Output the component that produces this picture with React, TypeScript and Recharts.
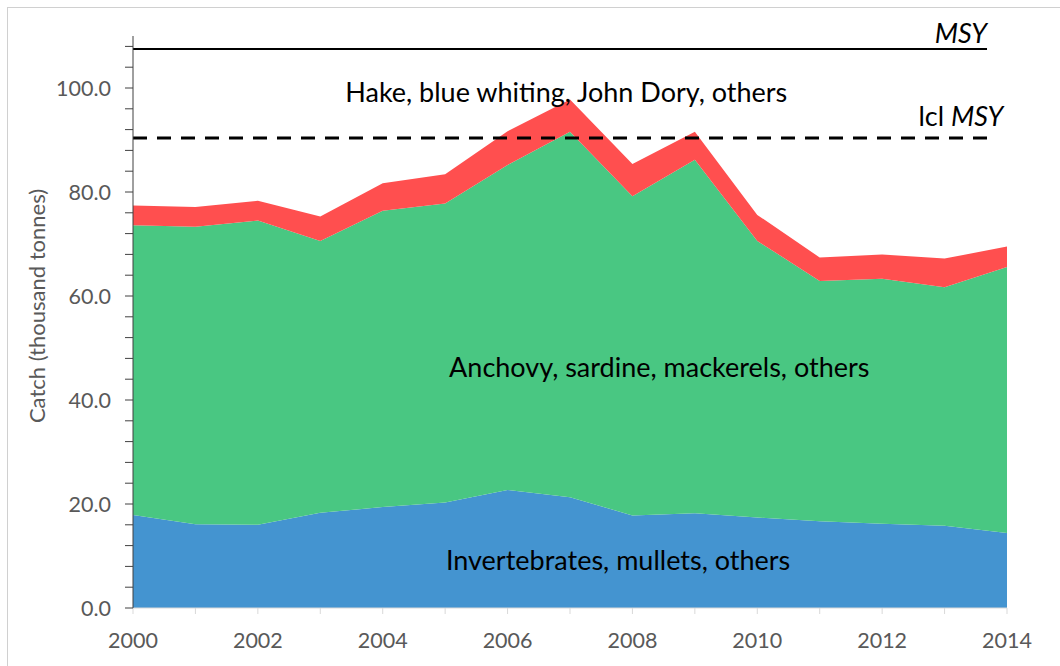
import {
  Area,
  AreaChart,
  ReferenceDot,
  ReferenceLine,
  XAxis,
  YAxis,
} from "recharts";

const years = [2000, 2001, 2002, 2003, 2004, 2005, 2006, 2007, 2008, 2009, 2010, 2011, 2012, 2013, 2014];
const invertebrates = [17.9, 16.1, 16.0, 18.3, 19.4, 20.3, 22.7, 21.3, 17.8, 18.2, 17.4, 16.7, 16.2, 15.8, 14.4];
const pelagics = [55.7, 57.2, 58.5, 52.3, 57.0, 57.5, 62.5, 70.3, 61.4, 68.0, 53.2, 46.2, 47.1, 45.9, 51.2];
const demersals = [3.8, 3.8, 3.8, 4.7, 5.3, 5.6, 6.5, 6.2, 6.2, 5.4, 5.0, 4.5, 4.7, 5.5, 3.9];

const msy = 107.5;
const lclMsy = 90.4;
const refLineEnd = 2013.68;

const yTicks = [0, 4, 8, 12, 16, 20, 24, 28, 32, 36, 40, 44, 48, 52, 56, 60, 64, 68, 72, 76, 80, 84, 88, 92, 96, 100, 104, 108];
const yLabelled = [0, 20, 40, 60, 80, 100];

const data = years.map((year, i) => ({
  year,
  inv: invertebrates[i],
  pel: pelagics[i],
  dem: demersals[i],
}));

const FONT = "Lato, 'Open Sans', sans-serif";

const areaLabel = (value: string) => ({
  value,
  position: "center" as const,
  fill: "#000",
  fontSize: 27,
  fontFamily: FONT,
});

const msyText = (prefix: string) => (props: any) => {
  const { x, y } = props.viewBox;
  return (
    <text x={x} y={y} textAnchor="end" fill="#000" fontSize={27} fontFamily={FONT}>
      {prefix}
      <tspan fontStyle="italic">MSY</tspan>
    </text>
  );
};

// year tick: labels on even years only, pushed a little lower like the original
const YearTick = (props: any) => {
  const { x, y, payload } = props;
  if (payload.value % 2 !== 0) return null;
  return (
    <text x={x} y={y + 32} textAnchor="middle" fill="#595959" fontSize={21.5} fontFamily={FONT}>
      {payload.value}
    </text>
  );
};

export default function App() {
  return (
    <div
      style={{
        position: "fixed",
        top: 0,
        left: 0,
        width: 1060,
        height: 666,
        background: "#fff",
        overflow: "hidden",
      }}
    >
      <div
        style={{
          position: "absolute",
          left: 7,
          top: 7,
          width: 1060,
          height: 666,
          borderLeft: "1px solid #d0d0d0",
          borderTop: "1px solid #d0d0d0",
        }}
      />
      <AreaChart
        width={1060}
        height={666}
        data={data}
        margin={{ top: 36, right: 53, left: 0, bottom: 0 }}
        style={{ position: "absolute", left: 0, top: 0 }}
      >
        <XAxis
          dataKey="year"
          type="number"
          domain={[2000, 2014]}
          ticks={years}
          interval={0}
          height={58}
          axisLine={{ stroke: "#d9d9d9" }}
          tickLine={{ stroke: "#d9d9d9" }}
          tickSize={6}
          tick={<YearTick />}
        />
        <YAxis
          type="number"
          domain={[0, 110]}
          ticks={yTicks}
          interval={0}
          width={133}
          tickFormatter={(v: number) => (yLabelled.includes(v) ? v.toFixed(1) : "")}
          axisLine={{ stroke: "#404040" }}
          tickLine={{ stroke: "#404040" }}
          tickSize={8}
          tickMargin={14}
          tick={{ fill: "#595959", fontSize: 21.5, fontFamily: FONT }}
          label={{
            value: "Catch (thousand tonnes)",
            angle: -90,
            position: "center",
            dx: -29,
            dy: -16,
            fill: "#595959",
            fontSize: 22,
            fontFamily: FONT,
          }}
        />
        <Area
          type="linear"
          dataKey="inv"
          stackId="1"
          stroke="none"
          fill="#4494D0"
          fillOpacity={1}
          isAnimationActive={false}
        />
        <Area
          type="linear"
          dataKey="pel"
          stackId="1"
          stroke="none"
          fill="#49C782"
          fillOpacity={1}
          isAnimationActive={false}
        />
        <Area
          type="linear"
          dataKey="dem"
          stackId="1"
          stroke="none"
          fill="#FF4F4F"
          fillOpacity={1}
          isAnimationActive={false}
        />
        <ReferenceLine
          segment={[
            { x: 2000, y: msy },
            { x: refLineEnd, y: msy },
          ]}
          stroke="#000"
          strokeWidth={2}
        />
        <ReferenceLine
          segment={[
            { x: 2000, y: lclMsy },
            { x: refLineEnd, y: lclMsy },
          ]}
          stroke="#000"
          strokeWidth={3}
          strokeDasharray="14 10"
        />
        <ReferenceDot x={2006.94} y={99.2} r={0} fill="none" stroke="none" label={areaLabel("Hake, blue whiting, John Dory, others")} />
        <ReferenceDot x={2008.43} y={46.3} r={0} fill="none" stroke="none" label={areaLabel("Anchovy, sardine, mackerels, others")} />
        <ReferenceDot x={2007.77} y={9.2} r={0} fill="none" stroke="none" label={areaLabel("Invertebrates, mullets, others")} />
        <ReferenceDot x={refLineEnd} y={108.65} r={0} fill="none" stroke="none" label={{ content: msyText("") }} />
        <ReferenceDot x={2013.94} y={92.6} r={0} fill="none" stroke="none" label={{ content: msyText("lcl ") }} />
      </AreaChart>
    </div>
  );
}
